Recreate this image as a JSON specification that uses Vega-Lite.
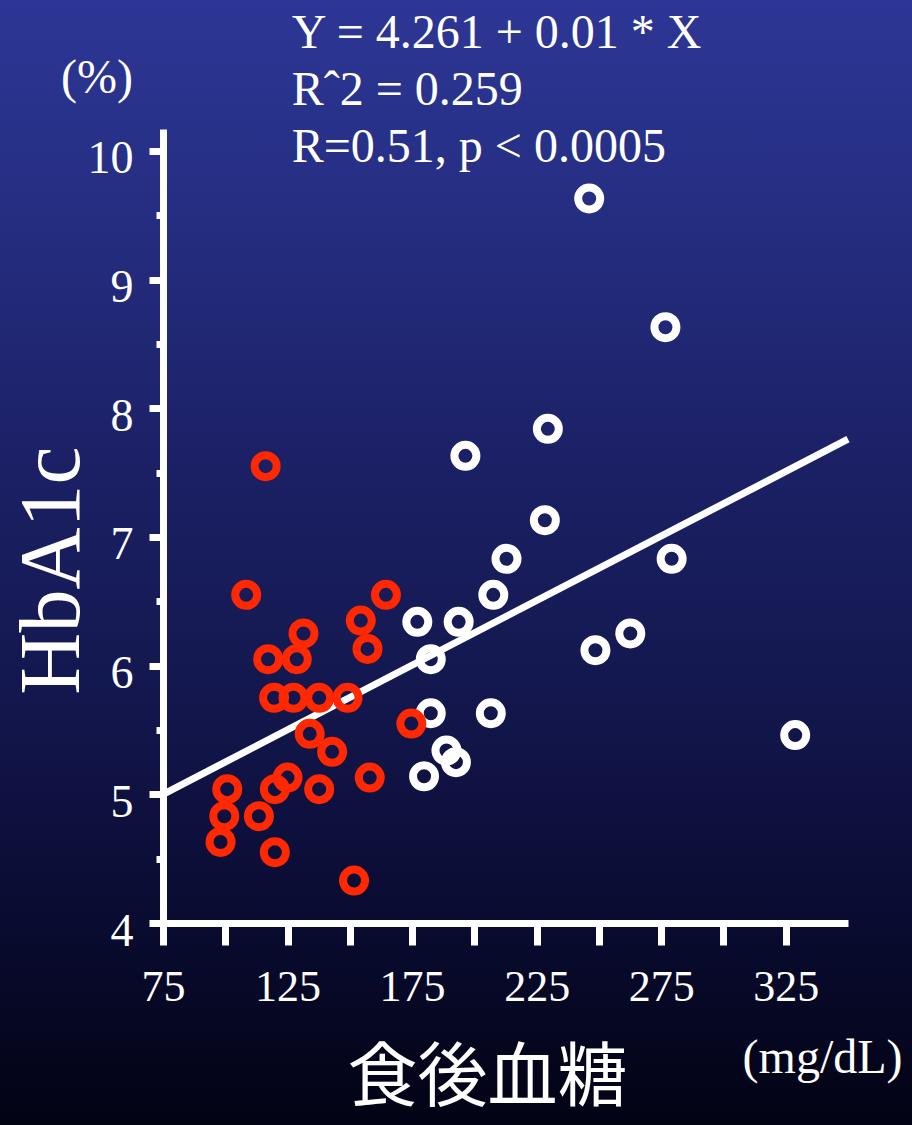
{
  "$schema": "https://vega.github.io/schema/vega-lite/v6.json",
  "width": 685,
  "height": 794,
  "autosize": {"type": "none"},
  "padding": {"left": 163, "top": 129, "right": 64, "bottom": 202},
  "background": "#0b0d35",
  "config": {"view": {"stroke": null}, "font": "Liberation Serif"},
  "datasets": {
    "points": [
      {"group": "high", "glucose": 246.1, "hba1c": 9.63},
      {"group": "high", "glucose": 276.7, "hba1c": 8.63},
      {"group": "high", "glucose": 229.5, "hba1c": 7.84},
      {"group": "high", "glucose": 196.4, "hba1c": 7.63},
      {"group": "high", "glucose": 228.3, "hba1c": 7.13},
      {"group": "high", "glucose": 212.9, "hba1c": 6.83},
      {"group": "high", "glucose": 279.2, "hba1c": 6.83},
      {"group": "high", "glucose": 207.6, "hba1c": 6.55},
      {"group": "high", "glucose": 177.1, "hba1c": 6.34},
      {"group": "high", "glucose": 193.7, "hba1c": 6.34},
      {"group": "high", "glucose": 248.6, "hba1c": 6.12},
      {"group": "high", "glucose": 262.6, "hba1c": 6.25},
      {"group": "high", "glucose": 182.5, "hba1c": 6.05},
      {"group": "high", "glucose": 182.5, "hba1c": 5.63},
      {"group": "high", "glucose": 206.6, "hba1c": 5.63},
      {"group": "high", "glucose": 328.8, "hba1c": 5.46},
      {"group": "high", "glucose": 188.8, "hba1c": 5.34},
      {"group": "high", "glucose": 192.6, "hba1c": 5.25},
      {"group": "high", "glucose": 179.8, "hba1c": 5.14},
      {"group": "low", "glucose": 116.2, "hba1c": 7.55},
      {"group": "low", "glucose": 108.4, "hba1c": 6.55},
      {"group": "low", "glucose": 164.5, "hba1c": 6.55},
      {"group": "low", "glucose": 154.4, "hba1c": 6.35},
      {"group": "low", "glucose": 157.1, "hba1c": 6.13},
      {"group": "low", "glucose": 131.4, "hba1c": 6.25},
      {"group": "low", "glucose": 117.2, "hba1c": 6.05},
      {"group": "low", "glucose": 128.7, "hba1c": 6.05},
      {"group": "low", "glucose": 119.6, "hba1c": 5.75},
      {"group": "low", "glucose": 127.4, "hba1c": 5.75},
      {"group": "low", "glucose": 137.7, "hba1c": 5.75},
      {"group": "low", "glucose": 149.1, "hba1c": 5.75},
      {"group": "low", "glucose": 174.7, "hba1c": 5.55},
      {"group": "low", "glucose": 133.9, "hba1c": 5.47},
      {"group": "low", "glucose": 142.9, "hba1c": 5.33},
      {"group": "low", "glucose": 100.8, "hba1c": 5.04},
      {"group": "low", "glucose": 119.9, "hba1c": 5.04},
      {"group": "low", "glucose": 125.0, "hba1c": 5.13},
      {"group": "low", "glucose": 137.7, "hba1c": 5.04},
      {"group": "low", "glucose": 158.0, "hba1c": 5.13},
      {"group": "low", "glucose": 99.6, "hba1c": 4.83},
      {"group": "low", "glucose": 113.5, "hba1c": 4.83},
      {"group": "low", "glucose": 98.1, "hba1c": 4.63},
      {"group": "low", "glucose": 119.9, "hba1c": 4.55},
      {"group": "low", "glucose": 151.7, "hba1c": 4.33}
    ]
  },
  "layer": [
    {
      "data": {"values": [{}]},
      "mark": {
        "type": "rect",
        "fill": {
          "gradient": "linear",
          "x1": 0, "y1": 0, "x2": 0, "y2": 1,
          "stops": [
            {"offset": 0, "color": "#2d3695"},
            {"offset": 0.15, "color": "#273086"},
            {"offset": 0.4, "color": "#1c2167"},
            {"offset": 0.6, "color": "#141850"},
            {"offset": 0.8, "color": "#0a0c33"},
            {"offset": 1, "color": "#020313"}
          ]
        }
      },
      "encoding": {
        "x": {"datum": 0, "type": "quantitative"},
        "x2": {"datum": 400},
        "y": {"datum": 2.4, "type": "quantitative"},
        "y2": {"datum": 11.2}
      }
    },
    {
      "data": {"values": [{}]},
      "mark": {"type": "rule", "color": "#ffffff", "strokeWidth": 7},
      "encoding": {
        "x": {"datum": 75, "type": "quantitative"},
        "x2": {"datum": 350},
        "y": {"datum": 5.0, "type": "quantitative"},
        "y2": {"datum": 7.76}
      }
    },
    {
      "data": {"name": "points"},
      "mark": {"type": "point", "shape": "circle", "filled": false, "strokeWidth": 8, "size": 484, "opacity": 1},
      "encoding": {
        "x": {
          "field": "glucose",
          "type": "quantitative",
          "scale": {"domain": [75, 350], "nice": false, "zero": false},
          "axis": {
            "zindex": 1,
            "values": [75, 100, 125, 150, 175, 200, 225, 250, 275, 300, 325],
            "labelExpr": "datum.value % 50 == 25 ? format(datum.value, 'd') : ''",
            "grid": false,
            "domainColor": "#ffffff",
            "domainWidth": 7,
            "tickColor": "#ffffff",
            "tickWidth": 7,
            "tickSize": 22,
            "labelColor": "#ffffff",
            "labelFont": "Liberation Serif",
            "labelFontSize": 44,
            "labelPadding": 20,
            "labelOverlap": false,
            "labelFlush": false,
            "title": "食後血糖",
            "titleFont": "Noto Sans CJK JP",
            "titleFontSize": 70,
            "titleFontWeight": "normal",
            "titleColor": "#ffffff",
            "titleX": 324,
            "titleY": 177,
            "titleAlign": "center",
            "titleBaseline": "alphabetic",
            "titleAnchor": null
          }
        },
        "y": {
          "field": "hba1c",
          "type": "quantitative",
          "scale": {"domain": [4, 10.17], "nice": false, "zero": false},
          "axis": {
            "zindex": 1,
            "values": [4, 4.5, 5, 5.5, 6, 6.5, 7, 7.5, 8, 8.5, 9, 9.5, 10],
            "labelExpr": "datum.value % 1 == 0 ? format(datum.value, 'd') : ''",
            "grid": false,
            "domainColor": "#ffffff",
            "domainWidth": 7,
            "tickColor": "#ffffff",
            "tickWidth": 7,
            "tickSize": {"condition": {"test": "datum.value % 1 == 0", "value": 14}, "value": 7},
            "labelColor": "#ffffff",
            "labelFont": "Liberation Serif",
            "labelFontSize": 46,
            "labelPadding": 16,
            "labelOffset": 8,
            "labelOverlap": false,
            "labelFlush": false,
            "title": "HbA1c",
            "titleFont": "Liberation Serif",
            "titleFontSize": 86,
            "titleFontWeight": "normal",
            "titleColor": "#ffffff",
            "titleAngle": 270,
            "titleX": -85,
            "titleY": 441,
            "titleAlign": "center",
            "titleBaseline": "alphabetic",
            "titleAnchor": null
          }
        },
        "color": {
          "field": "group",
          "type": "nominal",
          "scale": {"domain": ["high", "low"], "range": ["#ffffff", "#ff2800"]},
          "legend": null
        }
      }
    },
    {
      "data": {"values": [{}]},
      "mark": {
        "type": "text",
        "text": ["Y = 4.261 + 0.01 * X", "Rˆ2 = 0.259", "R=0.51, p < 0.0005"],
        "font": "Liberation Serif",
        "fontSize": 48,
        "lineHeight": 57,
        "color": "#ffffff",
        "align": "left",
        "baseline": "alphabetic"
      },
      "encoding": {
        "x": {"datum": 126.7, "type": "quantitative"},
        "y": {"datum": 10.8, "type": "quantitative"}
      }
    },
    {
      "data": {"values": [{}]},
      "mark": {"type": "text", "text": "(%)", "font": "Liberation Serif", "fontSize": 48, "color": "#ffffff", "align": "center", "baseline": "alphabetic"},
      "encoding": {
        "x": {"datum": 48.5, "type": "quantitative"},
        "y": {"datum": 10.449, "type": "quantitative"}
      }
    },
    {
      "data": {"values": [{}]},
      "mark": {"type": "text", "text": "(mg/dL)", "font": "Liberation Serif", "fontSize": 48, "color": "#ffffff", "align": "center", "baseline": "alphabetic"},
      "encoding": {
        "x": {"datum": 339.8, "type": "quantitative"},
        "y": {"datum": 2.833, "type": "quantitative"}
      }
    }
  ]
}
